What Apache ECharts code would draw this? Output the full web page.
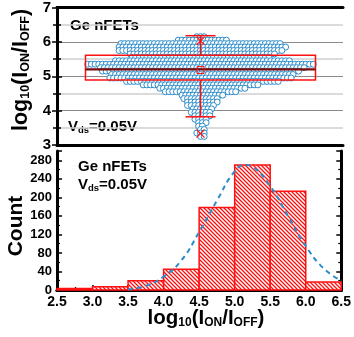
<!DOCTYPE html>
<html><head><meta charset="utf-8">
<script src="https://cdn.jsdelivr.net/npm/echarts@6/dist/echarts.min.js"></script>
<style>html,body{margin:0;padding:0;background:#fff}#c{width:354px;height:337px}</style>
</head><body><div id="c"></div>
<script>
// ---------- data ----------
// swarm plot: log10(ION/IOFF) levels and number of devices at each level
const swarmLevels = [6.15, 6.05, 5.95, 5.85, 5.75, 5.65, 5.55, 5.45, 5.35, 5.25, 5.15, 5.05,
                     4.95, 4.85, 4.75, 4.65, 4.55, 4.45, 4.35, 4.25, 4.15, 4.05,
                     3.95, 3.85, 3.75, 3.65, 3.55, 3.45, 3.35, 3.25];
const swarmCounts = [3, 14, 44, 46, 45, 40, 38, 48, 62, 56, 54, 50,
                     50, 42, 32, 24, 20, 12, 10, 9, 8, 6,
                     6, 5, 4, 3, 2, 2, 3, 2];
// box: [lower whisker, Q1, median, Q3, upper whisker]
const boxValues = [3.82, 4.89, 5.2, 5.61, 6.18];
const boxMean = 5.18;
const boxExtremes = [3.33, 6.03];
// histogram
const binStarts = [2.5, 3.0, 3.5, 4.0, 4.5, 5.0, 5.5, 6.0];
const binCounts = [3, 7, 20, 45, 178, 270, 213, 17];
const binWidth = 0.5;
// fitted normal curve (dashed)
const fitX = [3.5, 3.75, 4.0, 4.25, 4.5, 4.75, 5.0, 5.15, 5.25, 5.5, 5.75, 6.0, 6.25, 6.5];
const fitY = [1, 9, 29, 64, 125, 193, 256, 270, 266, 224, 160, 95, 47, 20];
// text
const panelLabel = 'Ge nFETs';
const biasLabel = '{b|V}{s|ds}{b|=0.05V}';
const xTitle = '{a|log}{s|10}{a|(I}{s|ON}{a|/I}{s|OFF}{a|)}';
const countTitle = 'Count';

// ---------- layout / style ----------
const FONT = '"Liberation Sans", Arial, sans-serif';
const BLUE = '#2a8cca';
const RED = '#ff1010';
const SW_W = 286;          // width of swarm x-axis in layout units (= px)
const SW_C = 143.5;        // swarm centre
const SPACING = 3.7;

const swarmData = [];
swarmLevels.forEach((v, r) => {
  const n = swarmCounts[r];
  const shift = (r % 2) * SPACING / 2;
  for (let i = 0; i < n; i++) swarmData.push([SW_C + (i - (n - 1) / 2) * SPACING + shift, v]);
});

function hatch() {
  const c = document.createElement('canvas');
  c.width = 4; c.height = 4;
  const g = c.getContext('2d');
  g.fillStyle = '#fff'; g.fillRect(0, 0, 4, 4);
  g.strokeStyle = RED; g.lineWidth = 1.3;
  g.beginPath();
  g.moveTo(-1, -1); g.lineTo(5, 5);
  g.moveTo(-1, 3); g.lineTo(1, 5);
  g.moveTo(3, -1); g.lineTo(5, 1);
  g.stroke();
  return c;
}
const hatchPattern = { image: hatch(), repeat: 'repeat' };

const lbl = { color: '#000', fontFamily: FONT, fontWeight: 'bold' };
const thick = { show: true, lineStyle: { color: '#000', width: 3 } };
const inTick = (len) => ({ show: true, inside: true, length: len, lineStyle: { color: '#000', width: 1.5 } });
const T = (size, extra) => Object.assign({ fontSize: size, fontWeight: 'bold', fontFamily: FONT, fill: '#000' }, extra || {});

const chart = echarts.init(document.getElementById('c'), null, { renderer: 'canvas' });
chart.setOption({
  animation: false,
  backgroundColor: '#fff',
  grid: [
    { left: 57, right: 11, top: 6, height: 139 },
    { left: 57, right: 11, top: 151, height: 139 }
  ],
  xAxis: [
    { gridIndex: 0, type: 'value', min: 0, max: SW_W, axisLine: thick, axisTick: { show: false }, axisLabel: { show: false }, splitLine: { show: false } },
    { gridIndex: 0, type: 'value', position: 'top', min: 0, max: SW_W, axisLine: thick, axisTick: { show: false }, axisLabel: { show: false }, splitLine: { show: false } },
    { gridIndex: 1, type: 'value', min: 2.5, max: 6.5, interval: 0.5, axisLine: thick, axisTick: inTick(5),
      minorTick: { show: true, splitNumber: 2, length: 3, lineStyle: { color: '#000', width: 1.2 } },
      axisLabel: Object.assign({ fontSize: 14, margin: 5, formatter: v => v.toFixed(1) }, lbl), splitLine: { show: false } },
    { gridIndex: 1, type: 'value', position: 'top', min: 2.5, max: 6.5, axisLine: thick, axisTick: { show: false }, axisLabel: { show: false }, splitLine: { show: false } }
  ],
  yAxis: [
    { gridIndex: 0, type: 'value', min: 3, max: 7, interval: 1, axisLine: thick, axisTick: inTick(5),
      minorTick: { show: true, splitNumber: 2, length: 4, lineStyle: { color: '#000', width: 1.5 } },
      axisLabel: Object.assign({ fontSize: 15, margin: 6 }, lbl),
      splitLine: { show: true, lineStyle: { color: '#8a8a8a', width: 1 } },
      minorSplitLine: { show: true, lineStyle: { color: '#cfcfcf', width: 1.5 } } },
    { gridIndex: 0, type: 'value', position: 'right', min: 3, max: 7, interval: 1, axisLine: thick, axisTick: inTick(5),
      minorTick: { show: true, splitNumber: 2, length: 4, lineStyle: { color: '#000', width: 1.5 } },
      axisLabel: { show: false }, splitLine: { show: false } },
    { gridIndex: 1, type: 'value', min: 0, max: 300, interval: 40, axisLine: thick, axisTick: inTick(5),
      minorTick: { show: true, splitNumber: 2, length: 3, lineStyle: { color: '#000', width: 1.2 } },
      axisLabel: Object.assign({ fontSize: 13, margin: 5, showMaxLabel: false }, lbl), splitLine: { show: false } },
    { gridIndex: 1, type: 'value', position: 'right', min: 0, max: 300, interval: 40, axisLine: thick, axisTick: inTick(5),
      minorTick: { show: true, splitNumber: 2, length: 3, lineStyle: { color: '#000', width: 1.2 } },
      axisLabel: { show: false }, splitLine: { show: false } }
  ],
  series: [
    { type: 'scatter', xAxisIndex: 0, yAxisIndex: 0, data: swarmData, symbol: 'circle', symbolSize: 6,
      itemStyle: { color: '#fff', borderColor: BLUE, borderWidth: 1, opacity: 1 }, z: 2 },
    { type: 'custom', xAxisIndex: 0, yAxisIndex: 0, data: [[SW_C]], z: 5,
      renderItem: (params, api) => {
        const c = api.coord([SW_C, boxValues[2]]);
        const cx = c[0];
        const y = v => api.coord([SW_C, v])[1];
        const hw = 115, cap = 15, red = RED;
        const ln = (x1, y1, x2, y2, col, w) => ({ type: 'line', shape: { x1, y1, x2, y2 }, style: { stroke: col, lineWidth: w } });
        const yq1 = y(boxValues[1]), yq3 = y(boxValues[3]);
        const ymin = y(boxValues[0]), ymax = y(boxValues[4]);
        const ym = y(boxMean);
        const ex = boxExtremes.map(y);
        const ch = [
          ln(cx, yq3, cx, ymax, red, 1.5), ln(cx - cap, ymax, cx + cap, ymax, red, 1.5),
          ln(cx, yq1, cx, ymin, red, 1.5), ln(cx - cap, ymin, cx + cap, ymin, red, 1.5),
          { type: 'rect', shape: { x: cx - hw, y: yq3, width: 2 * hw, height: yq1 - yq3 }, style: { fill: 'none', stroke: red, lineWidth: 1.5 } },
          ln(cx - hw, c[1], cx + hw, c[1], '#7a0a0a', 2.2),
          { type: 'rect', shape: { x: cx - 3.5, y: ym - 3.5, width: 7, height: 7 }, style: { fill: 'none', stroke: red, lineWidth: 1 } }
        ];
        ex.forEach(yy => { ch.push(ln(cx - 4, yy - 4, cx + 4, yy + 4, red, 1.2)); ch.push(ln(cx - 4, yy + 4, cx + 4, yy - 4, red, 1.2)); });
        return { type: 'group', children: ch };
      } },
    { type: 'custom', xAxisIndex: 2, yAxisIndex: 2, z: 3,
      data: binStarts.map((b, i) => [b, binCounts[i]]), encode: { x: 0, y: 1 },
      renderItem: (params, api) => {
        const x0 = api.value(0), cnt = api.value(1);
        const p0 = api.coord([x0, cnt]);
        const p1 = api.coord([x0 + binWidth, 0]);
        return { type: 'rect', shape: { x: p0[0], y: p0[1], width: p1[0] - p0[0], height: p1[1] - p0[1] },
          style: { fill: hatchPattern, stroke: RED, lineWidth: 1.5 } };
      } },
    { type: 'line', xAxisIndex: 2, yAxisIndex: 2, z: 6, data: fitX.map((x, i) => [x, fitY[i]]), smooth: true,
      symbol: 'none', lineStyle: { color: BLUE, width: 2, type: [5, 4] } }
  ],
  graphic: [
    { type: 'text', x: 21, y: 70, rotation: Math.PI / 2,
      style: { text: xTitle, textAlign: 'center', textVerticalAlign: 'middle',
        rich: { a: T(21.5, { lineHeight: 22 }), s: T(12.5, { lineHeight: 2, verticalAlign: 'bottom' }) } } },
    { type: 'text', x: 16, y: 226, rotation: Math.PI / 2,
      style: Object.assign({ text: countTitle, textAlign: 'center', textVerticalAlign: 'middle' }, T(21)) },
    { type: 'text', x: 206, y: 318,
      style: { text: xTitle, textAlign: 'center', textVerticalAlign: 'middle',
        rich: { a: T(20.5, { lineHeight: 21 }), s: T(12, { lineHeight: 2, verticalAlign: 'bottom' }) } } },
    { type: 'text', x: 70, y: 26, style: Object.assign({ text: panelLabel, textAlign: 'left', textVerticalAlign: 'middle' }, T(15)) },
    { type: 'text', x: 68, y: 127, style: { text: biasLabel, textAlign: 'left', textVerticalAlign: 'middle',
        rich: { b: T(15, { lineHeight: 16 }), s: T(9.5, { lineHeight: 2, verticalAlign: 'bottom' }) } } },
    { type: 'text', x: 78, y: 167, style: Object.assign({ text: panelLabel, textAlign: 'left', textVerticalAlign: 'middle' }, T(15)) },
    { type: 'text', x: 78, y: 185, style: { text: biasLabel, textAlign: 'left', textVerticalAlign: 'middle',
        rich: { b: T(15, { lineHeight: 16 }), s: T(9.5, { lineHeight: 2, verticalAlign: 'bottom' }) } } }
  ]
});
</script>
</body></html>
